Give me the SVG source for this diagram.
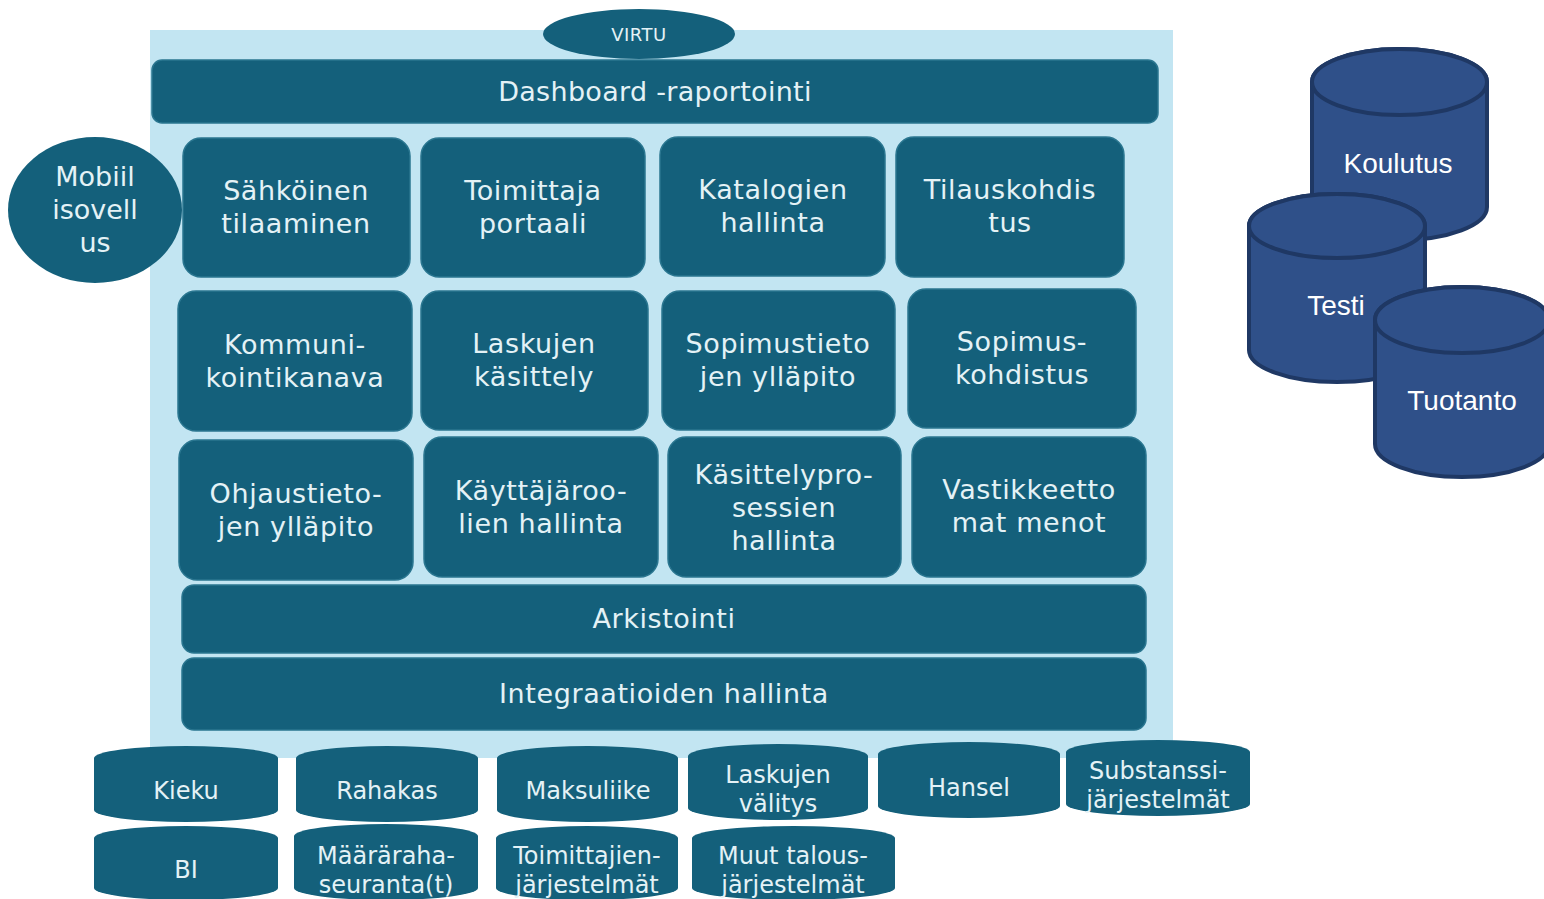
<svg xmlns="http://www.w3.org/2000/svg" width="1544" height="899" viewBox="0 0 1544 899">
<defs>
<style>
.bx{fill:#14607b;stroke:#2a7690;stroke-width:1.5}
.cyl{fill:#14607b}
.t{font-family:"DejaVu Sans","Liberation Sans",sans-serif;font-size:27px;letter-spacing:0.6px;fill:#e4f2f6;text-anchor:middle}
.tb{font-family:"DejaVu Sans","Liberation Sans",sans-serif;font-size:24px;fill:#e4f2f6;text-anchor:middle}
.db{fill:#2f5089;stroke:#1f3864;stroke-width:4}
.dt{font-family:"Liberation Sans",Arial,sans-serif;font-size:28px;fill:#ffffff;text-anchor:middle}
</style>
</defs>
<rect width="1544" height="899" fill="#ffffff"/>
<rect id="background" x="150" y="30" width="1023" height="728" fill="#c2e5f2"/>
<g id="virtu"><ellipse cx="639" cy="34" rx="96" ry="25" class="cyl"/><text x="639" y="41" class="t" style="font-size:18px;letter-spacing:0.5px">VIRTU</text></g>
<g id="dashboard"><rect x="152" y="60" width="1006" height="63" rx="10" class="bx"/><text x="655" y="101" class="t" style="letter-spacing:0.3px">Dashboard -raportointi</text></g>
<g id="mobiili"><ellipse cx="95" cy="210" rx="87" ry="73" class="cyl"/><text class="t" style="letter-spacing:0"><tspan x="95" y="186">Mobiil</tspan><tspan x="95" y="219">isovell</tspan><tspan x="95" y="252">us</tspan></text></g>

<g id="sahkoinen"><rect x="183" y="138" width="227" height="139" rx="18" class="bx"/><text class="t"><tspan x="296" y="200">Sähköinen</tspan><tspan x="296" y="233">tilaaminen</tspan></text></g>
<g id="toimittaja"><rect x="421" y="138" width="224" height="139" rx="18" class="bx"/><text class="t"><tspan x="533" y="200">Toimittaja</tspan><tspan x="533" y="233">portaali</tspan></text></g>
<g id="katalogien"><rect x="660" y="137" width="225" height="139" rx="18" class="bx"/><text class="t"><tspan x="773" y="199">Katalogien</tspan><tspan x="773" y="232">hallinta</tspan></text></g>
<g id="tilaus"><rect x="896" y="137" width="228" height="140" rx="18" class="bx"/><text class="t"><tspan x="1010" y="199">Tilauskohdis</tspan><tspan x="1010" y="232">tus</tspan></text></g>

<g id="kommuni"><rect x="178" y="291" width="234" height="140" rx="18" class="bx"/><text class="t"><tspan x="295" y="354">Kommuni-</tspan><tspan x="295" y="387">kointikanava</tspan></text></g>
<g id="laskujen"><rect x="421" y="291" width="227" height="139" rx="18" class="bx"/><text class="t"><tspan x="534" y="353">Laskujen</tspan><tspan x="534" y="386">käsittely</tspan></text></g>
<g id="sopimustieto"><rect x="662" y="291" width="233" height="139" rx="18" class="bx"/><text class="t"><tspan x="778" y="353">Sopimustieto</tspan><tspan x="778" y="386">jen ylläpito</tspan></text></g>
<g id="sopimuskohd"><rect x="908" y="289" width="228" height="139" rx="18" class="bx"/><text class="t"><tspan x="1022" y="351">Sopimus-</tspan><tspan x="1022" y="384">kohdistus</tspan></text></g>

<g id="ohjaus"><rect x="179" y="440" width="234" height="140" rx="18" class="bx"/><text class="t"><tspan x="296" y="503">Ohjaustieto-</tspan><tspan x="296" y="536">jen ylläpito</tspan></text></g>
<g id="kayttaja"><rect x="424" y="437" width="234" height="140" rx="18" class="bx"/><text class="t"><tspan x="541" y="500">Käyttäjäroo-</tspan><tspan x="541" y="533">lien hallinta</tspan></text></g>
<g id="kasittely"><rect x="668" y="437" width="233" height="140" rx="18" class="bx"/><text class="t"><tspan x="784" y="484">Käsittelypro-</tspan><tspan x="784" y="517">sessien</tspan><tspan x="784" y="550">hallinta</tspan></text></g>
<g id="vastikkeet"><rect x="912" y="437" width="234" height="140" rx="18" class="bx"/><text class="t"><tspan x="1029" y="499">Vastikkeetto</tspan><tspan x="1029" y="532">mat menot</tspan></text></g>

<g id="arkistointi"><rect x="182" y="585" width="964" height="68" rx="12" class="bx"/><text x="664" y="628" class="t">Arkistointi</text></g>
<g id="integraatiot"><rect x="182" y="658" width="964" height="72" rx="12" class="bx"/><text x="664" y="703" class="t">Integraatioiden hallinta</text></g>

<g id="kieku"><path class="cyl" d="M94,758 A92,12 0 0 1 278,758 V810 A92,12 0 0 1 94,810 Z"/><text x="186" y="799" class="tb">Kieku</text></g>
<g id="rahakas"><path class="cyl" d="M296,758 A91,12 0 0 1 478,758 V810 A91,12 0 0 1 296,810 Z"/><text x="387" y="799" class="tb">Rahakas</text></g>
<g id="maksuliike"><path class="cyl" d="M497,758 A90.5,12 0 0 1 678,758 V810 A90.5,12 0 0 1 497,810 Z"/><text x="588" y="799" class="tb">Maksuliike</text></g>
<g id="laskujenvalitys"><path class="cyl" d="M688,756 A90,12 0 0 1 868,756 V808 A90,12 0 0 1 688,808 Z"/><text class="tb"><tspan x="778" y="783">Laskujen</tspan><tspan x="778" y="812">välitys</tspan></text></g>
<g id="hansel"><path class="cyl" d="M878,754 A91,12 0 0 1 1060,754 V806 A91,12 0 0 1 878,806 Z"/><text x="969" y="796" class="tb">Hansel</text></g>
<g id="substanssi"><path class="cyl" d="M1066,752 A92,12 0 0 1 1250,752 V804 A92,12 0 0 1 1066,804 Z"/><text class="tb"><tspan x="1158" y="779">Substanssi-</tspan><tspan x="1158" y="808">järjestelmät</tspan></text></g>

<g id="bi"><path class="cyl" d="M94,838 A92,12 0 0 1 278,838 V888 A92,12 0 0 1 94,888 Z"/><text x="186" y="878" class="tb">BI</text></g>
<g id="maararaha"><path class="cyl" d="M294,836 A92,12 0 0 1 478,836 V888 A92,12 0 0 1 294,888 Z"/><text class="tb"><tspan x="386" y="864">Määräraha-</tspan><tspan x="386" y="893">seuranta(t)</tspan></text></g>
<g id="toimittajien"><path class="cyl" d="M496,838 A91,12 0 0 1 678,838 V888 A91,12 0 0 1 496,888 Z"/><text class="tb"><tspan x="587" y="864">Toimittajien-</tspan><tspan x="587" y="893">järjestelmät</tspan></text></g>
<g id="muut"><path class="cyl" d="M692,838 A101.5,12 0 0 1 895,838 V888 A101.5,12 0 0 1 692,888 Z"/><text class="tb"><tspan x="793" y="864">Muut talous-</tspan><tspan x="793" y="893">järjestelmät</tspan></text></g>

<g id="koulutus"><path class="db" d="M1312,82 A87.5,33 0 0 1 1487,82 V207 A87.5,33 0 0 1 1312,207 Z"/><ellipse class="db" cx="1399.5" cy="82" rx="87.5" ry="33"/><text x="1398" y="173" class="dt">Koulutus</text></g>
<g id="testi"><path class="db" d="M1249,226 A88,32 0 0 1 1425,226 V350 A88,32 0 0 1 1249,350 Z"/><ellipse class="db" cx="1337" cy="226" rx="88" ry="32"/><text x="1336" y="315" class="dt">Testi</text></g>
<g id="tuotanto"><path class="db" d="M1375,320 A87,33 0 0 1 1549,320 V444 A87,33 0 0 1 1375,444 Z"/><ellipse class="db" cx="1462" cy="320" rx="87" ry="33"/><text x="1462" y="410" class="dt">Tuotanto</text></g>
<g id="connectors"></g>
</svg>
